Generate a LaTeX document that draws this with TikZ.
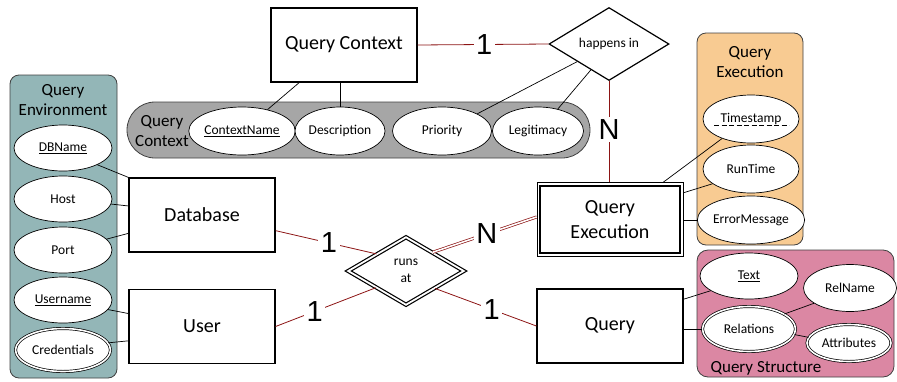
\documentclass[tikz,border=0pt]{standalone}
\usepackage{fontspec}
\setmainfont{Carlito}
\newfontfamily\labfont{Liberation Sans}
\usetikzlibrary{shapes.geometric}
\definecolor{envc}{RGB}{147,182,183}
\definecolor{ctxc}{RGB}{166,166,166}
\definecolor{exc}{RGB}{248,203,146}
\definecolor{stc}{RGB}{219,135,163}
\definecolor{relc}{RGB}{140,20,20}
\tikzset{
  ent/.style={draw, line width=1.2pt, minimum width=146pt, minimum height=74pt, font=\fontsize{20}{25}\selectfont, align=center, inner sep=0pt, fill=white},
  attr/.style={ellipse, draw, fill=white, line width=0.7pt, inner sep=0pt, font=\fontsize{13.5}{16}\selectfont, minimum width=96pt, minimum height=46pt},
  mattr/.style={attr, double, double distance=1.6pt},
  panel/.style={draw=black!75, line width=0.8pt},
  ptitle/.style={font=\fontsize{17}{20}\selectfont, align=center},
  relline/.style={draw=relc, line width=0.8pt},
  card/.style={fill=white, inner sep=2.5pt, font=\labfont\fontsize{29}{30}\selectfont, text=black},
  conn/.style={draw=black, line width=0.7pt},
  rship/.style={diamond, draw, fill=white, line width=1.2pt, inner sep=0pt, font=\fontsize{13.5}{17}\selectfont, align=center}
}
\begin{document}
\begin{tikzpicture}[x=1pt,y=-1pt]
\useasboundingbox (0,0) rectangle (897,381);
% panels
\draw[panel, fill=envc, rounded corners=9pt] (10,75) rectangle (117,378);
\node[ptitle] (envt) at (63,100) {Query\\Environment};
\draw[panel, fill=ctxc, rounded corners=28pt] (127,102) rectangle (590,158);
\node[ptitle] (ctxt) at (162,131) {Query\\Context};
\draw[panel, fill=exc, rounded corners=9pt] (697,33) rectangle (803,245);
\node[ptitle] (exct) at (750,62) {Query\\Execution};
\draw[panel, fill=stc, rounded corners=11pt] (697,250) rectangle (894,377);
\node[ptitle] (stt) at (766,368) {Query Structure};
% entities
\node[ent] (qc) at (344,45) {Query Context};
\node[ent] (db) at (202,215) {Database};
\node[ent] (user) at (202,326.5) {User};
\node[ent, line width=0.7pt] (qe) at (610,219.5) {Query\\Execution};
\draw[line width=2pt] ([xshift=3.5pt,yshift=-3.5pt]qe.north west) rectangle ([xshift=-3.5pt,yshift=3.5pt]qe.south east);
\node[ent] (q) at (610,326) {Query};
% relationships
\node[rship, minimum width=120pt, minimum height=73pt] (hi) at (609,44) {happens in};
\node[rship, double, double distance=1.8pt, minimum width=116pt, minimum height=68pt] (ra) at (406,271) {runs\\at};
% attributes: environment
\node[attr, minimum width=98pt] (dbname) at (63,148) {\underline{DBName}};
\node[attr, minimum width=98pt] (host) at (63,199) {Host};
\node[attr, minimum width=98pt] (port) at (63,250) {Port};
\node[attr, minimum width=98pt] (uname) at (63,300) {\underline{Username}};
\node[mattr, minimum width=95pt, minimum height=43pt] (cred) at (63,350) {Credentials};
% attributes: context
\node[attr, minimum width=100pt, minimum height=48pt] (cname) at (242,131) {\underline{ContextName}};
\node[attr, minimum width=90pt, minimum height=48pt] (desc) at (340,131) {Description};
\node[attr, minimum width=99pt, minimum height=48pt] (prio) at (442,131) {Priority};
\node[attr, minimum width=91pt, minimum height=48pt] (legit) at (538,131) {Legitimacy};
% attributes: execution
\node[attr, minimum height=48pt] (ts) at (751,119) {Timestamp};
\draw[line width=0.6pt, dash pattern=on 5pt off 2.5pt] ([xshift=-37pt,yshift=-2.5pt]ts.base) -- ([xshift=38pt,yshift=-2.5pt]ts.base);
\node[attr, minimum height=48pt] (rt) at (751,169) {RunTime};
\node[attr, minimum height=48pt] (em) at (751,220) {ErrorMessage};
% attributes: structure
\node[attr, minimum width=98pt] (txt) at (749,276) {\underline{Text}};
\node[attr, minimum width=93pt, minimum height=47pt] (rn) at (850,288) {RelName};
\node[mattr, minimum width=93pt, minimum height=45pt] (rels) at (749,329) {Relations};
\node[mattr, minimum width=84pt, minimum height=37pt] (attrs) at (849,343) {Attributes};
% attribute connectors
\draw[conn] (dbname.-26) -- (db.north west);
\draw[conn] (host.-6) -- (db.173);
\draw[conn] (port.14) -- (db.194);
\draw[conn] (uname.-12) -- (user.170);
\draw[conn] (cred.9) -- (user.191);
\draw[conn] (cname.40) -- (qc.220);
\draw[conn] (desc.north) -- (desc.north |- qc.south);
\draw[conn] (prio.26) -- (hi.209);
\draw[conn] (legit.48) -- (hi.235);
\draw[conn] (ts.214) -- (qe.35);
\draw[conn] (rt.201) -- (qe.20);
\draw[conn] (em.west) -- (em.west -| qe.east);
\draw[conn] (txt.201) -- (q.20);
\draw[conn] (rels.west) -- (rels.west -| q.east);
\draw[conn] (rels.23) -- (rn.203);
\draw[conn] (rels.-7) -- (attrs.172);
% relationship connectors
\draw[relline] (qc.east) -- node[card, pos=0.51] {1} (hi.west);
\draw[relline] (hi.south) -- node[card, pos=0.48] {N} (hi.south |- qe.north);
\draw[relline] (db.-12) -- node[card, pos=0.53] {1} (ra.150);
\draw[relline] (user.east) -- node[card, pos=0.39] {1} (ra.209);
\draw[relline] (ra.-31) -- node[card, pos=0.56] {1} (q.west);
\draw[relline, double=white, double distance=1.6pt, line width=0.7pt] (ra.35) -- node[card, pos=0.52] {N} (qe.178);
\end{tikzpicture}
\end{document}
